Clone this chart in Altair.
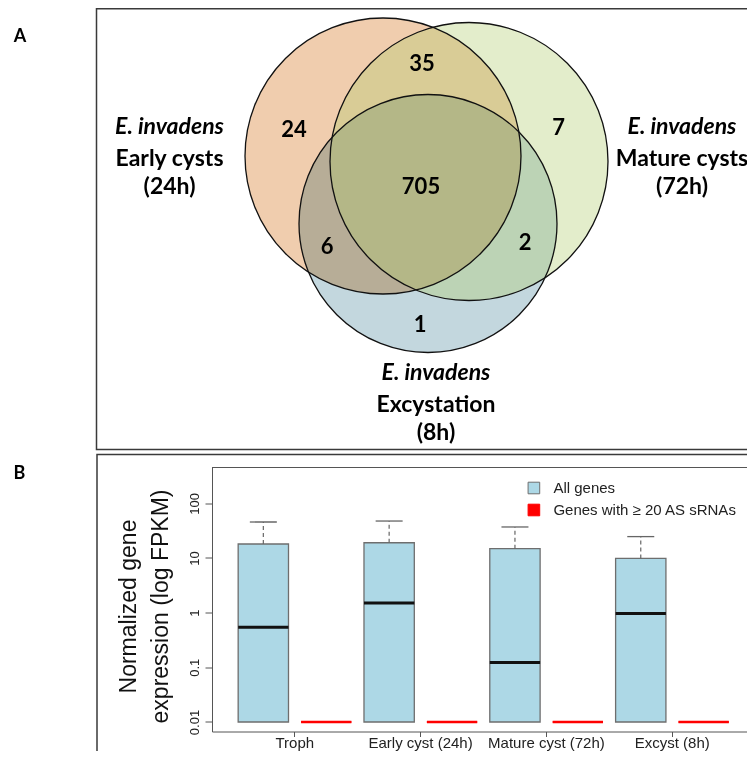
import altair as alt
import pandas as pd

# ---------------- Panel B data ----------------
categories = ["Troph", "Early cyst (24h)", "Mature cyst (72h)", "Excyst (8h)"]
series = ["All genes", "Genes with \u2265 20 AS sRNAs"]
all_q1 = [0.01, 0.01, 0.01, 0.01]
all_median = [0.54, 1.5, 0.123, 0.96]
all_q3 = [18.0, 19.0, 14.8, 9.8]
all_whisker = [45.5, 47.4, 36.9, 24.6]
as_value = [0.01, 0.01, 0.01, 0.01]
y_tick_values = [0.01, 0.1, 1, 10, 100]
y_title = ["Normalized gene", "expression (log FPKM)"]

# ---------------- Panel A data ----------------
venn_regions = ["Early only", "Early & Mature", "Mature only", "All three",
                "Early & Excyst", "Mature & Excyst", "Excyst only"]
venn_counts = [24, 35, 7, 705, 6, 2, 1]
species = "E. invadens"
set_names = ["Early cysts", "Mature cysts", "Excystation"]
set_times = ["(24h)", "(72h)", "(8h)"]
panel_letters = ["A", "B"]

# ---------------- layout (diagram geometry, page pixels) ----------------
PLOT_L, PLOT_T, W, H = 212, 467.5, 543, 264
TOTAL_W, TOTAL_H = 739, 743
venn_cx = [383, 469, 428]
venn_cy = [156, 161.5, 223.5]
venn_r = [138, 139, 129]
count_x = [294, 422, 558.5, 421, 327, 525, 420]
count_y = [130, 64, 128, 186.5, 247, 243, 325]
label_x = [169.5, 682, 436]
label_y = [133.5, 133.5, 380]
line_offsets = [0, 32, 60]
letter_x = [20, 19.5]
letter_y = [41.5, 478.5]
frame_x = [96.5, 97]
frame_x2 = [900, 900]
frame_y = [8.75, 454.5]
frame_y2 = [449.5, 900]
Y_DOMAIN = [10 ** -2.174, 10 ** 2.655]

# ---------------- tables ----------------
box_rows = []
for i, c in enumerate(categories):
    box_rows.append({"category": c, "series": series[0], "q1": all_q1[i],
                     "median": all_median[i], "q3": all_q3[i], "upper": all_whisker[i]})
    box_rows.append({"category": c, "series": series[1], "q1": as_value[i],
                     "median": as_value[i], "q3": as_value[i], "upper": as_value[i]})
box_df = pd.DataFrame(box_rows)

venn_df = pd.DataFrame({"set": set_names, "cx": venn_cx, "cy": venn_cy, "r": venn_r})
count_df = pd.DataFrame({"region": venn_regions, "n": [str(v) for v in venn_counts],
                         "x": count_x, "y": count_y})
lab_rows = []
for i in range(3):
    lines = [species, set_names[i], set_times[i]]
    for j, t in enumerate(lines):
        lab_rows.append({"text": t, "italic": j == 0, "x": label_x[i],
                         "y": label_y[i] + line_offsets[j]})
lab_df = pd.DataFrame(lab_rows)
letter_df = pd.DataFrame({"text": panel_letters, "x": letter_x, "y": letter_y})
frame_df = pd.DataFrame({"x": frame_x, "x2": frame_x2, "y": frame_y, "y2": frame_y2})

# ---------------- Venn (panel A) ----------------
vx = alt.Scale(domain=[PLOT_L, PLOT_L + W], nice=False, zero=False)
vy = alt.Scale(domain=[PLOT_T, PLOT_T + H], nice=False, zero=False, reverse=True)
vsize = alt.Scale(type="pow", exponent=2, domain=[0, 1], range=[0, 4])


def vxy(xf="x", yf="y"):
    return dict(x=alt.X(f"{xf}:Q", scale=vx, axis=None),
                y=alt.Y(f"{yf}:Q", scale=vy, axis=None))


frames = alt.Chart(frame_df).mark_rect(fillOpacity=0, stroke="#3a3a3a", strokeWidth=1.5).encode(
    x2="x2:Q", y2="y2:Q", **vxy())


def circle(i, **kw):
    return alt.Chart(venn_df).transform_filter(alt.datum.set == set_names[i]).mark_circle(**kw).encode(
        size=alt.Size("r:Q", scale=vsize, legend=None), **vxy("cx", "cy"))


c_early = circle(0, color="#F0CDAE", opacity=1)
c_exc = circle(2, color="#C3D7DE", opacity=1, blend="multiply")
c_mat = circle(1, color="#AFCC6A", opacity=0.35)
outlines = alt.Chart(venn_df).mark_point(shape="circle", filled=False, color="#111111",
                                          strokeWidth=1.3, opacity=1).encode(
    size=alt.Size("r:Q", scale=vsize, legend=None), **vxy("cx", "cy"))

counts = alt.Chart(count_df).mark_text(font="Lato", fontSize=22, fontWeight="bold",
                                       baseline="middle", align="center", color="black").encode(
    text="n:N", **vxy())
lab_it = alt.Chart(lab_df).transform_filter(alt.datum.italic).mark_text(
    font="Lato", fontSize=23, fontWeight="bold", fontStyle="italic", baseline="alphabetic",
    align="center", color="black").encode(text="text:N", **vxy())
lab_rg = alt.Chart(lab_df).transform_filter(~alt.datum.italic).mark_text(
    font="Lato", fontSize=23, fontWeight="bold", baseline="alphabetic",
    align="center", color="black").encode(text="text:N", **vxy())
letters = alt.Chart(letter_df).mark_text(font="Lato", fontSize=18, fontWeight="bold",
                                         baseline="alphabetic", align="center", color="black").encode(
    text="text:N", **vxy())

venn = alt.layer(frames, c_early, c_exc, c_mat, outlines, counts, lab_it, lab_rg, letters)

# ---------------- Boxplot (panel B) ----------------
xs = alt.Scale(type="band", domain=categories, paddingInner=0, paddingOuter=0.158)
xo = alt.Scale(type="band", domain=series, paddingInner=0.2, paddingOuter=0.1)
ys = alt.Scale(type="log", domain=Y_DOMAIN, nice=False)

x_axis = alt.Axis(orient="bottom", labelAngle=0, labelFont="Liberation Sans", labelFontSize=15,
                  labelColor="#222222", tickSize=5, tickColor="#555555", domainColor="#555555",
                  labelPadding=-1.5, grid=False)
y_axis = alt.Axis(orient="left", values=y_tick_values, format="~g", labelFont="Liberation Sans",
                  labelFontSize=13, labelColor="#222222", labelAngle=270, labelAlign="center",
                  labelBaseline="bottom", labelPadding=4, tickSize=7, tickColor="#555555",
                  domainColor="#555555", grid=False, title=y_title, titleFont="Liberation Sans",
                  titleFontSize=23, titleFontWeight="normal", titleColor="#111111",
                  titleAngle=270, titleX=-77, titleY=138.5, titleAlign="center",
                  titleBaseline="alphabetic", titleLineHeight=32)


def bx():
    return dict(x=alt.X("category:N", scale=xs, axis=x_axis, title=None),
                xOffset=alt.XOffset("series:N", scale=xo))


top_rule = alt.Chart(pd.DataFrame({"v": [Y_DOMAIN[1]]})).mark_rule(
    color="#555555", strokeWidth=1).encode(y=alt.Y("v:Q", scale=ys, axis=y_axis))

bars = alt.Chart(box_df).mark_bar(strokeWidth=1.3).encode(
    y=alt.Y("q3:Q", scale=ys, axis=y_axis), y2="q1:Q",
    fill=alt.Fill("series:N", scale=alt.Scale(domain=series, range=["#ADD8E6", "#FF0000"]),
                  legend=alt.Legend(title=None, orient="none", legendX=314.4, legendY=13,
                                    symbolType="square", symbolSize=135,
                                    symbolStrokeColor="#666666", symbolStrokeWidth=1,
                                    labelFont="Liberation Sans", labelFontSize=15,
                                    labelColor="#222222", labelOffset=12, rowPadding=5,
                                    labelLimit=400, padding=0)),
    stroke=alt.Stroke("series:N", scale=alt.Scale(domain=series, range=["#6e6e6e", "#FF0000"]),
                      legend=None),
    **bx())

whiskers = alt.Chart(box_df).transform_filter(alt.datum.series == series[0]).mark_rule(
    color="#666666", strokeWidth=1.2, strokeDash=[4, 3]).encode(
    y=alt.Y("q3:Q", scale=ys, axis=y_axis), y2="upper:Q", **bx())
caps = alt.Chart(box_df).transform_filter(alt.datum.series == series[0]).mark_tick(
    color="#666666", size=27, thickness=1.3, opacity=1).encode(
    y=alt.Y("upper:Q", scale=ys, axis=y_axis), **bx())
medians = alt.Chart(box_df).transform_filter(alt.datum.series == series[0]).mark_tick(
    color="#111111", size=50.3, thickness=3, opacity=1).encode(
    y=alt.Y("median:Q", scale=ys, axis=y_axis), **bx())
as_lines = alt.Chart(box_df).transform_filter(alt.datum.series == series[1]).mark_tick(
    color="#FF0000", size=50.3, thickness=2.6, opacity=1).encode(
    y=alt.Y("median:Q", scale=ys, axis=y_axis), **bx())

box = alt.layer(top_rule, bars, whiskers, caps, medians, as_lines)

pad_left = PLOT_L - 8
pad_top = PLOT_T - 8
chart = alt.layer(venn, box).resolve_scale(
    x="independent", y="independent", size="independent"
).properties(
    width=W, height=H,
    padding={"left": pad_left, "top": pad_top, "right": TOTAL_W - pad_left - W,
             "bottom": TOTAL_H - pad_top - H},
    autosize=alt.AutoSizeParams(type="none"),
    background="white",
).configure_view(strokeWidth=0)

chart.save("out.html", embed_options={"renderer": "svg", "actions": False})
